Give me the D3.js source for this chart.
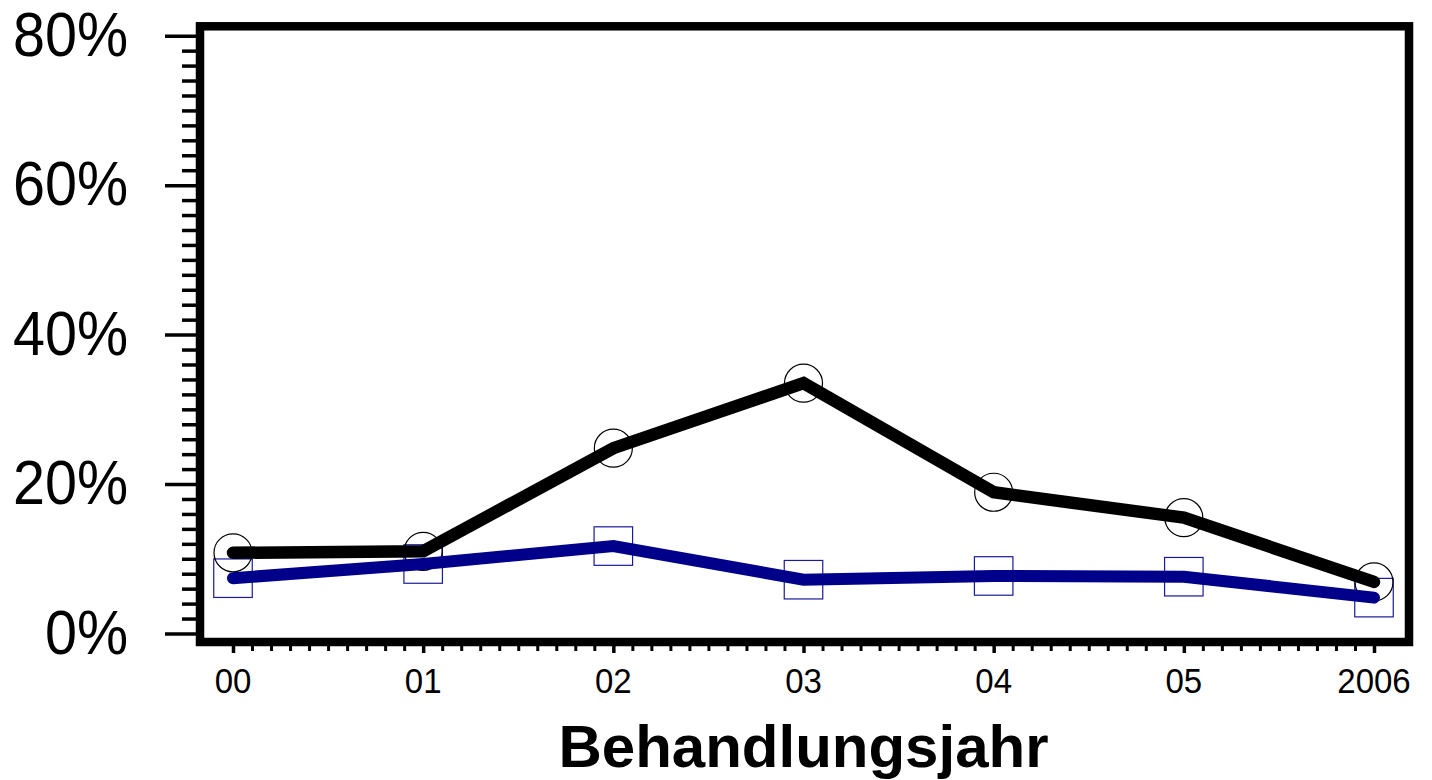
<!DOCTYPE html>
<html>
<head>
<meta charset="utf-8">
<script src="https://cdn.jsdelivr.net/npm/d3@7"></script>
<style>
  html, body { margin: 0; padding: 0; background: #fff; }
  svg { display: block; }
  text { font-family: "Liberation Sans", Arial, sans-serif; fill: #000; }
</style>
</head>
<body>
<svg id="chart" width="1432" height="780"></svg>
<script>
// ---- data ----
const years = [0, 1, 2, 3, 4, 5, 6];
const yearLabels = ["00", "01", "02", "03", "04", "05", "2006"];
const seriesBlack = [10.8, 11.0, 24.8, 33.5, 18.9, 15.5, 6.9];
const seriesBlue = [7.4, 9.3, 11.7, 7.2, 7.7, 7.6, 4.8];
const yMajorTicks = [0, 20, 40, 60, 80];
const yTickLabels = ["0%", "20%", "40%", "60%", "80%"];
const xAxisTitle = "Behandlungsjahr";

const svg = d3.select("#chart");

const x = d3.scaleLinear().domain([0, 6]).range([233, 1374]);
const y = d3.scaleLinear().domain([0, 80]).range([633.5, 35.7]);

const frame = { left: 200, right: 1409, top: 26.3, bottom: 642 };

// frame (white fill)
svg.append("rect")
  .attr("x", frame.left).attr("y", frame.top)
  .attr("width", frame.right - frame.left)
  .attr("height", frame.bottom - frame.top)
  .attr("fill", "#fff");

// y axis minor ticks
const yMinor = d3.range(0, 80.001, 2).filter(v => v % 20 !== 0);
svg.append("g")
  .attr("transform", `translate(${frame.left},0)`)
  .call(d3.axisLeft(y).tickValues(yMinor).tickSize(18).tickSizeOuter(0).tickFormat(""))
  .call(g => g.select(".domain").remove())
  .call(g => g.selectAll("line").attr("stroke", "#000").attr("stroke-width", 3.5));

// y axis major ticks
svg.append("g")
  .attr("transform", `translate(${frame.left},0)`)
  .call(d3.axisLeft(y).tickValues(yMajorTicks).tickSize(35).tickSizeOuter(0).tickFormat(""))
  .call(g => g.select(".domain").remove())
  .call(g => g.selectAll("line").attr("stroke", "#000").attr("stroke-width", 3.5));

// y tick labels
svg.append("g").selectAll("text")
  .data(yMajorTicks)
  .join("text")
  .attr("transform", (d) => `translate(128,${y(d) + 20}) scale(1,1.09)`)
  .attr("text-anchor", "end")
  .attr("font-size", 57.5)
  .text((d, i) => yTickLabels[i]);

// x axis minor ticks
const xMinor = d3.range(0, 6.0001, 0.1).map(v => Math.round(v * 10) / 10).filter(v => Math.abs(v - Math.round(v)) > 1e-6);
svg.append("g")
  .attr("transform", `translate(0,${frame.bottom})`)
  .call(d3.axisBottom(x).tickValues(xMinor).tickSize(9).tickSizeOuter(0).tickFormat(""))
  .call(g => g.select(".domain").remove())
  .call(g => g.selectAll("line").attr("stroke", "#000").attr("stroke-width", 3));

// x axis major ticks
svg.append("g")
  .attr("transform", `translate(0,${frame.bottom})`)
  .call(d3.axisBottom(x).tickValues(years).tickSize(11).tickSizeOuter(0).tickFormat(""))
  .call(g => g.select(".domain").remove())
  .call(g => g.selectAll("line").attr("stroke", "#000").attr("stroke-width", 3.5));

// x tick labels
svg.append("g").selectAll("text")
  .data(years)
  .join("text")
  .attr("transform", d => `translate(${x(d)},693) scale(1,1.06)`)
  .attr("text-anchor", "middle")
  .attr("font-size", 33)
  .text((d, i) => yearLabels[i]);

// x axis title
svg.append("text")
  .attr("x", x(3))
  .attr("y", 767)
  .attr("text-anchor", "middle")
  .attr("font-size", 60)
  .attr("font-weight", "bold")
  .text(xAxisTitle);

// markers
const sq = 38.5;
svg.append("g").selectAll("rect")
  .data(years)
  .join("rect")
  .attr("x", (d) => x(d) - sq / 2)
  .attr("y", (d, i) => y(seriesBlue[i]) - sq / 2)
  .attr("width", sq).attr("height", sq)
  .attr("fill", "none")
  .attr("stroke", "#1a1a9a")
  .attr("stroke-width", 1.2);

svg.append("g").selectAll("circle")
  .data(years)
  .join("circle")
  .attr("cx", d => x(d))
  .attr("cy", (d, i) => y(seriesBlack[i]))
  .attr("r", 19)
  .attr("fill", "none")
  .attr("stroke", "#000")
  .attr("stroke-width", 1.2);

// lines
const line = d3.line().x(d => x(d[0])).y(d => y(d[1]));

svg.append("path")
  .attr("d", line(years.map((d, i) => [d, seriesBlue[i]])))
  .attr("fill", "none")
  .attr("stroke", "#00008b")
  .attr("stroke-width", 12)
  .attr("stroke-linecap", "round")
  .attr("stroke-linejoin", "miter");

svg.append("path")
  .attr("d", line(years.map((d, i) => [d, seriesBlack[i]])))
  .attr("fill", "none")
  .attr("stroke", "#000")
  .attr("stroke-width", 12.5)
  .attr("stroke-linecap", "round")
  .attr("stroke-linejoin", "miter");

// frame border
svg.append("rect")
  .attr("x", frame.left).attr("y", frame.top)
  .attr("width", frame.right - frame.left)
  .attr("height", frame.bottom - frame.top)
  .attr("fill", "none")
  .attr("stroke", "#000")
  .attr("stroke-width", 8.5);
</script>
</body>
</html>
